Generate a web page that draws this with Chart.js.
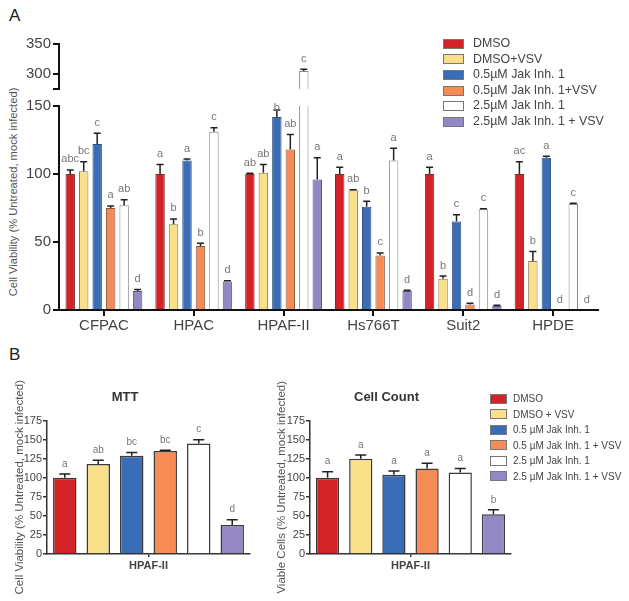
<!DOCTYPE html>
<html>
<head>
<meta charset="utf-8">
<script src="https://cdn.jsdelivr.net/npm/chart.js@4.4.1/dist/chart.umd.min.js"></script>
<style>
  body { margin: 0; background: #fff; font-family: "Liberation Sans", Arial, sans-serif; }
  #wrap { position: relative; width: 629px; height: 601px; overflow: hidden; }
  canvas { position: absolute; }
  .panel { position: absolute; font-size: 17px; color: #222; }
  .ytitle { position: absolute; transform: rotate(-90deg); transform-origin: center center; white-space: nowrap; color: #555; text-align: center; }
  .legend { position: absolute; color: #444; }
  .legend div { position: relative; white-space: nowrap; }
  .legend span.sw { position: absolute; left: 0; border: 1px solid #777; box-sizing: border-box; }
</style>
</head>
<body>
<div id="wrap">
  <div class="panel" style="left:9px;top:6px;">A</div>
  <div class="panel" style="left:9px;top:345px;">B</div>
  <div class="ytitle" id="yTitleA" style="left:-107px;top:186px;width:240px;font-size:11.2px;">Cell Viability (% Untreated, mock infected)</div>
  <canvas id="chartAUp" style="left:0;top:30px;" width="629" height="70"></canvas>
  <canvas id="chartALow" style="left:0;top:95px;" width="629" height="245"></canvas>
  <canvas id="chartMTT" style="left:0;top:380px;" width="262" height="220"></canvas>
  <canvas id="chartCount" style="left:262px;top:380px;" width="262" height="220"></canvas>
  <div class="legend" id="legendA" style="left:443px;top:36px;font-size:12.4px;"></div>
  <div class="legend" id="legendB" style="left:490px;top:391px;font-size:10px;"></div>
</div>
<script>
const cellLines = ['CFPAC', 'HPAC', 'HPAF-II', 'Hs766T', 'Suit2', 'HPDE'];
const seriesA = ['DMSO', 'DMSO+VSV', '0.5\u00b5M Jak Inh. 1', '0.5\u00b5M Jak Inh. 1+VSV', '2.5\u00b5M Jak Inh. 1', '2.5\u00b5M Jak Inh. 1 + VSV'];
const seriesB = ['DMSO', 'DMSO + VSV', '0.5 \u00b5M Jak Inh. 1', '0.5 \u00b5M Jak Inh. 1 + VSV', '2.5 \u00b5M Jak Inh. 1', '2.5 \u00b5M Jak Inh. 1 + VSV'];
const fills = ['#d42229', '#fbe08c', '#3a6db5', '#f58b55', '#ffffff', '#9387c4'];
const borders = ['#7a2a2a', '#8a7a50', '#2f4f80', '#8a5a40', '#888888', '#5a5580'];

// panel A values per series (one value per cell line)
const dmso       = [100, 100, 100, 100, 100, 100];
const dmsoVsv    = [102, 63, 101, 88, 23, 36];
const jak05      = [122, 110, 142, 76, 65, 112];
const jak05Vsv   = [75, 47, 118, 40, 4, 0];
const jak25      = [77, 131, 305, 110, 74, 78];
const jak25Vsv   = [14, 21, 96, 14, 3, 0];

const dmsoErr     = [3, 7, 0.5, 5, 5, 9];
const dmsoVsvErr  = [7, 4, 6, 0.5, 2, 7];
const jak05Err    = [8, 1, 5, 4, 5, 1];
const jak05VsvErr = [1.5, 2, 11, 2, 1, 0];
const jak25Err    = [4, 3, 3, 9, 0.5, 0.5];
const jak25VsvErr = [1, 0.5, 16, 0.5, 0.5, 0];

const dmsoSig     = ['abc', 'a', 'ab', 'a', 'a', 'ac'];
const dmsoVsvSig  = ['bc', 'b', 'ab', 'ab', 'b', 'b'];
const jak05Sig    = ['c', 'a', 'b', 'b', 'c', 'a'];
const jak05VsvSig = ['a', 'b', 'ab', 'c', 'd', 'd'];
const jak25Sig    = ['ab', 'c', 'c', 'a', 'c', 'c'];
const jak25VsvSig = ['d', 'd', 'a', 'd', 'd', 'd'];

// panel B, HPAF-II only
const mttValues = [100, 118, 129, 135, 145, 38];
const mttErr = [5, 5, 4, 1, 5, 7];
const mttSig = ['a', 'ab', 'bc', 'bc', 'c', 'd'];
const countValues = [100, 125, 104, 112, 107, 52];
const countErr = [8, 5, 5, 7, 5, 6];
const countSig = ['a', 'a', 'a', 'a', 'a', 'b'];

const valuesA = [dmso, dmsoVsv, jak05, jak05Vsv, jak25, jak25Vsv];
const errsA = [dmsoErr, dmsoVsvErr, jak05Err, jak05VsvErr, jak25Err, jak25VsvErr];
const sigsA = [dmsoSig, dmsoVsvSig, jak05Sig, jak05VsvSig, jak25Sig, jak25VsvSig];

// upper error whisker + letter above each bar
const errorBars = {
  id: 'errorBars',
  afterDatasetsDraw(chart, args, opts) {
    const ctx = chart.ctx;
    const y = chart.scales.y;
    const area = chart.chartArea;
    chart.data.datasets.forEach((ds, di) => {
      const meta = chart.getDatasetMeta(di);
      meta.data.forEach((bar, i) => {
        const v = ds.data[i];
        if (v < y.min || v > y.max) return;
        const e = ds.err[i] || 0;
        const yTop = y.getPixelForValue(v + e);
        const yBar = y.getPixelForValue(v);
        ctx.save();
        ctx.strokeStyle = '#222';
        ctx.lineWidth = opts.lw;
        if (e > 0.3) {
          ctx.beginPath();
          ctx.moveTo(bar.x, yBar);
          ctx.lineTo(bar.x, yTop);
          ctx.moveTo(bar.x - opts.cap / 2, yTop);
          ctx.lineTo(bar.x + opts.cap / 2, yTop);
          ctx.stroke();
        }
        ctx.fillStyle = '#777';
        ctx.font = opts.font;
        ctx.textAlign = 'center';
        ctx.textBaseline = 'bottom';
        ctx.fillText(ds.sig[i], bar.x, Math.max(yTop, area.top + 12) - opts.gap);
        ctx.restore();
      });
    });
  }
};

function datasetsA() {
  return seriesA.map((name, k) => ({
    label: name,
    data: valuesA[k],
    err: errsA[k],
    sig: sigsA[k],
    backgroundColor: fills[k],
    borderColor: borders[k],
    borderWidth: 1,
    categoryPercentage: 0.9,
    barPercentage: 0.7
  }));
}

function datasetsB(values, errs, sigs) {
  return seriesB.map((name, k) => ({
    label: name,
    data: [values[k]],
    err: [errs[k]],
    sig: [sigs[k]],
    backgroundColor: fills[k],
    borderColor: '#3a3a3a',
    borderWidth: 1.5,
    categoryPercentage: 0.99,
    barPercentage: 0.7
  }));
}

const axisFont = { family: 'Liberation Sans', size: 15 };

new Chart(document.getElementById('chartAUp'), {
  type: 'bar',
  data: { labels: cellLines, datasets: datasetsA() },
  options: {
    responsive: false,
    animation: false,
    layout: { padding: { top: 14, right: 31, bottom: 3, left: 0 } },
    plugins: { legend: { display: false }, tooltip: { enabled: false },
      errorBars: { lw: 1.5, cap: 7, gap: 5, font: '11px "Liberation Sans"' } },
    scales: {
      x: { display: false },
      y: {
        min: 275, max: 350,
        afterFit: s => { s.width = 59; },
        afterBuildTicks: s => { s.ticks = [{ value: 275 }, { value: 300 }, { value: 350 }]; },
        ticks: { autoSkip: false, font: axisFont, color: '#444', padding: 2, callback: v => v === 275 ? '' : v },
        grid: { drawOnChartArea: false, tickLength: 6, color: '#111', lineWidth: 2 },
        border: { color: '#111', width: 2 }
      }
    }
  },
  plugins: [errorBars]
});

new Chart(document.getElementById('chartALow'), {
  type: 'bar',
  data: { labels: cellLines, datasets: datasetsA() },
  options: {
    responsive: false,
    animation: false,
    layout: { padding: { top: 10, right: 31, bottom: 0, left: 0 } },
    plugins: { legend: { display: false }, tooltip: { enabled: false },
      errorBars: { lw: 1.5, cap: 7, gap: 5, font: '11px "Liberation Sans"' } },
    scales: {
      x: {
        afterFit: s => { s.height = 30; },
        ticks: { font: { family: 'Liberation Sans', size: 15 }, color: '#444', padding: 1 },
        grid: { offset: false, drawOnChartArea: false, tickLength: 6, color: '#111', lineWidth: 2 },
        border: { color: '#111', width: 2 }
      },
      y: {
        min: 0, max: 150,
        afterFit: s => { s.width = 59; },
        ticks: { stepSize: 50, font: axisFont, color: '#444', padding: 2 },
        grid: { drawOnChartArea: false, tickLength: 6, color: '#111', lineWidth: 2 },
        border: { color: '#111', width: 2 }
      }
    }
  },
  plugins: [errorBars]
});

function chartB(id, title, yTitle, values, errs, sigs, yWidth, padRight) {
  new Chart(document.getElementById(id), {
    type: 'bar',
    data: { labels: ['HPAF-II'], datasets: datasetsB(values, errs, sigs) },
    options: {
      responsive: false,
      animation: false,
      layout: { padding: { top: 0, right: padRight, bottom: 0, left: 0 } },
      plugins: {
        legend: { display: false }, tooltip: { enabled: false },
        title: { display: true, text: title, color: '#333', font: { family: 'Liberation Sans', size: 13, weight: 'bold' }, padding: { top: 10, bottom: 15 } },
        errorBars: { lw: 1.5, cap: 11, gap: 5, font: '10px "Liberation Sans"' }
      },
      scales: {
        x: {
          afterFit: s => { s.height = 46; },
          ticks: { font: { family: 'Liberation Sans', size: 11, weight: 'bold' }, color: '#444', padding: 2 },
          grid: { offset: false, drawOnChartArea: false, tickLength: 3, color: '#333', lineWidth: 1.5 },
          border: { color: '#333', width: 1.5 }
        },
        y: {
          min: 0, max: 175,
          afterFit: s => { s.width = yWidth; },
          title: { display: true, text: yTitle, color: '#555', font: { family: 'Liberation Sans', size: 11.5 }, padding: { top: 13, bottom: 0 } },
          ticks: { stepSize: 25, font: { family: 'Liberation Sans', size: 11 }, color: '#444', padding: 1 },
          grid: { drawOnChartArea: false, tickLength: 4, color: '#333', lineWidth: 1.5 },
          border: { color: '#333', width: 1.5 }
        }
      }
    },
    plugins: [errorBars]
  });
}

chartB('chartMTT', 'MTT', 'Cell Viability (% Untreated, mock infected)', mttValues, mttErr, mttSig, 47, 12);
chartB('chartCount', 'Cell Count', 'Viable Cells (% Untreated, mock infected)', countValues, countErr, countSig, 48, 13);

function buildLegend(elId, names, rowH, swW, swH, textX) {
  const box = document.getElementById(elId);
  names.forEach((name, k) => {
    const row = document.createElement('div');
    row.style.height = rowH + 'px';
    row.style.lineHeight = rowH + 'px';
    row.style.paddingLeft = textX + 'px';
    const sw = document.createElement('span');
    sw.className = 'sw';
    sw.style.width = swW + 'px';
    sw.style.height = swH + 'px';
    sw.style.top = ((rowH - swH) / 2) + 'px';
    sw.style.background = fills[k];
    row.appendChild(sw);
    row.appendChild(document.createTextNode(name));
    box.appendChild(row);
  });
}
buildLegend('legendA', seriesA, 15.6, 21, 10, 30);
buildLegend('legendB', seriesB, 15.5, 17, 10, 23);
</script>
</body>
</html>
